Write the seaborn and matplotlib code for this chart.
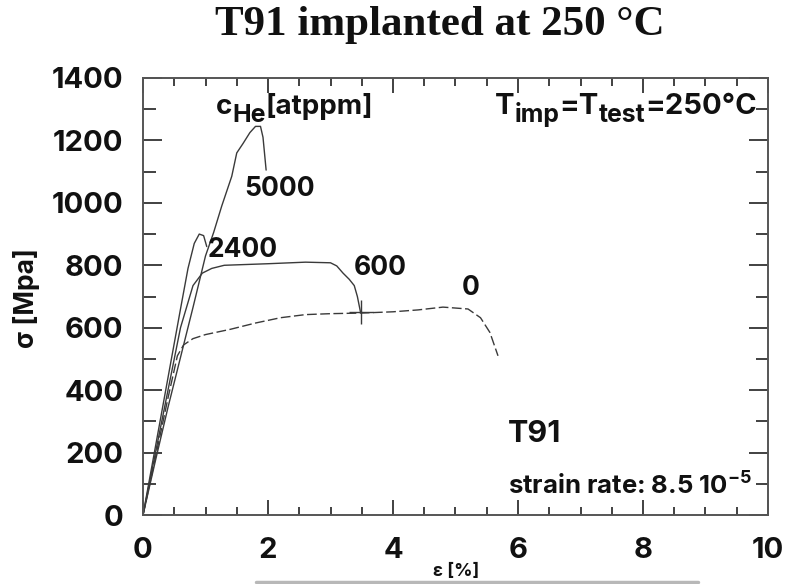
import matplotlib
matplotlib.use("Agg")
import matplotlib.pyplot as plt
from matplotlib.ticker import MultipleLocator
from matplotlib.lines import Line2D
import seaborn as sns
import pandas as pd

# Engineering stress-strain curves of T91 after He implantation at 250 degC
strain_0 = [0.0, 0.2, 0.4, 0.55, 0.65, 0.8, 1.0, 1.4, 1.8, 2.2, 2.6, 3.0, 3.5,
            4.0, 4.4, 4.8, 5.2, 5.4, 5.55, 5.68]
stress_0 = [0, 185, 375, 510, 545, 565, 578, 595, 615, 632, 642, 645, 647,
            651, 657, 666, 660, 632, 585, 510]

strain_600 = [0.0, 0.2, 0.4, 0.6, 0.8, 0.95, 1.1, 1.3, 2.0, 2.6, 3.0, 3.1,
              3.2, 3.3, 3.38, 3.43, 3.48]
stress_600 = [0, 200, 400, 600, 735, 775, 790, 800, 805, 810, 808, 798,
              775, 755, 735, 700, 650]

strain_2400 = [0.0, 0.2, 0.4, 0.6, 0.72, 0.82, 0.9, 0.97, 1.02]
stress_2400 = [0, 220, 440, 660, 790, 870, 900, 895, 860]

strain_5000 = [0.0, 0.2, 0.4, 0.6, 0.8, 1.0, 1.13, 1.26, 1.42, 1.5, 1.6,
               1.71, 1.8, 1.88, 1.92, 1.97]
stress_5000 = [0, 175, 345, 505, 665, 830, 905, 990, 1085, 1160, 1190,
               1225, 1245, 1245, 1210, 1105]

he_levels = ["0", "600", "2400", "5000"]
label_x = [5.25, 3.8, 1.6, 2.19]
label_y = [728, 792, 850, 1045]

x_ticks = [0, 2, 4, 6, 8, 10]
y_ticks = [0, 200, 400, 600, 800, 1000, 1200, 1400]

curves = pd.concat([
    pd.DataFrame({"strain": strain_0, "stress": stress_0, "cHe": "0"}),
    pd.DataFrame({"strain": strain_600, "stress": stress_600, "cHe": "600"}),
    pd.DataFrame({"strain": strain_2400, "stress": stress_2400, "cHe": "2400"}),
    pd.DataFrame({"strain": strain_5000, "stress": stress_5000, "cHe": "5000"}),
], ignore_index=True)

sns.set_theme(style="white")
SANS = ["Inter", "Liberation Sans", "DejaVu Sans"]
plt.rcParams["font.family"] = SANS
plt.rcParams["mathtext.default"] = "regular"
INK = "#111111"

fig = plt.figure(figsize=(7.88, 5.84), dpi=100)
ax = fig.add_axes([143 / 788, 69 / 584, 625 / 788, 437 / 584])

line_color = "#3a3a3a"
styles = {"0": (0, (7, 2.5)), "600": "-", "2400": "-", "5000": "-"}
for lvl in he_levels:
    sub = curves[curves["cHe"] == lvl]
    sns.lineplot(data=sub, x="strain", y="stress", sort=False, estimator=None,
                 color=line_color, lw=1.0, ax=ax, legend=False)
    ax.lines[-1].set_linestyle(styles[lvl])

# fracture mark at the end of the 600 appm curve
sns.scatterplot(x=[strain_600[-1]], y=[stress_600[-1]], marker="+", s=300,
                color=line_color, linewidth=1.0, ax=ax, legend=False)

for lvl, lx, ly in zip(he_levels, label_x, label_y):
    ax.text(lx, ly, lvl, fontsize=19, fontweight="bold", ha="center",
            va="center", color=INK)


def chained_text(x, y, pieces, size, weight="bold"):
    """Write text pieces one after another; each piece is (text, shift, scale)."""
    first, shift, scale = pieces[0]
    prev = ax.text(x, y, first, fontsize=size * scale, fontweight=weight,
                   ha="left", va="baseline", color=INK)
    prev_shift = shift
    for txt, shift, scale in pieces[1:]:
        prev = ax.annotate(txt, xy=(1, 0), xycoords=prev,
                           xytext=(0, shift - prev_shift),
                           textcoords="offset points", fontsize=size * scale,
                           fontweight=weight, ha="left", va="bottom",
                           color=INK)
        prev_shift = shift


chained_text(1.17, 1285, [("c", 0, 1.0), ("He", -5, 0.9),
                          ("[atppm]", 0, 1.0)], 20)
chained_text(5.63, 1285, [("T", 0, 1.0), ("imp", -5, 0.85), ("=T", 0, 1.0),
                          ("test", -5, 0.85), ("=250°C", 0, 1.0)], 21)

ax.text(5.84, 258, "T91", fontsize=22, fontweight="bold", ha="left",
        va="center", color=INK)
ax.text(5.84, 93, r"strain rate: 8.5 10$^{-5}$", fontsize=18.5,
        fontweight="bold", ha="left", va="center", color=INK)

ax.set_xlim(0, 10)
ax.set_ylim(0, 1400)
ax.set_xticks(x_ticks)
ax.set_yticks(y_ticks)
ax.set_xticklabels([str(v) for v in x_ticks])
ax.set_yticklabels([str(v) for v in y_ticks])
ax.xaxis.set_minor_locator(MultipleLocator(0.5))
ax.yaxis.set_minor_locator(MultipleLocator(100))
ax.set_xlabel("")
ax.set_ylabel("")

for side in ax.spines.values():
    side.set_visible(True)
    side.set_color("#555555")
    side.set_linewidth(1.4)

ax.tick_params(axis="both", which="both", direction="in", top=True,
               right=True, bottom=True, left=True, color="#333333",
               width=1.3)
ax.tick_params(axis="x", which="major", length=11, pad=16, labelsize=21)
ax.tick_params(axis="x", which="minor", length=6)
ax.tick_params(axis="y", which="major", length=14, pad=14, labelsize=21)
ax.tick_params(axis="y", which="minor", length=9)
for lab in ax.get_xticklabels() + ax.get_yticklabels():
    lab.set_fontweight("bold")
    lab.set_color(INK)

fig.text(27 / 788, 1 - 298 / 584, "σ [Mpa]", rotation=90, fontsize=19,
         fontweight="bold", ha="center", va="center", color=INK)
fig.text(456 / 788, 4 / 584, "ε [%]", fontsize=13, fontweight="bold",
         ha="center", va="bottom", color=INK)
fig.add_artist(Line2D([256 / 788, 698 / 788], [2 / 584, 2 / 584],
                      transform=fig.transFigure, color="#9a9a9a", lw=2.5,
                      alpha=0.7))

fig.text(440 / 788, 1 - 25 / 584, "T91 implanted at 250 °C",
         family=["Liberation Serif", "DejaVu Serif"], fontsize=31,
         fontweight="bold", ha="center", va="center", color=INK)

fig.savefig("out.png", dpi=100)
